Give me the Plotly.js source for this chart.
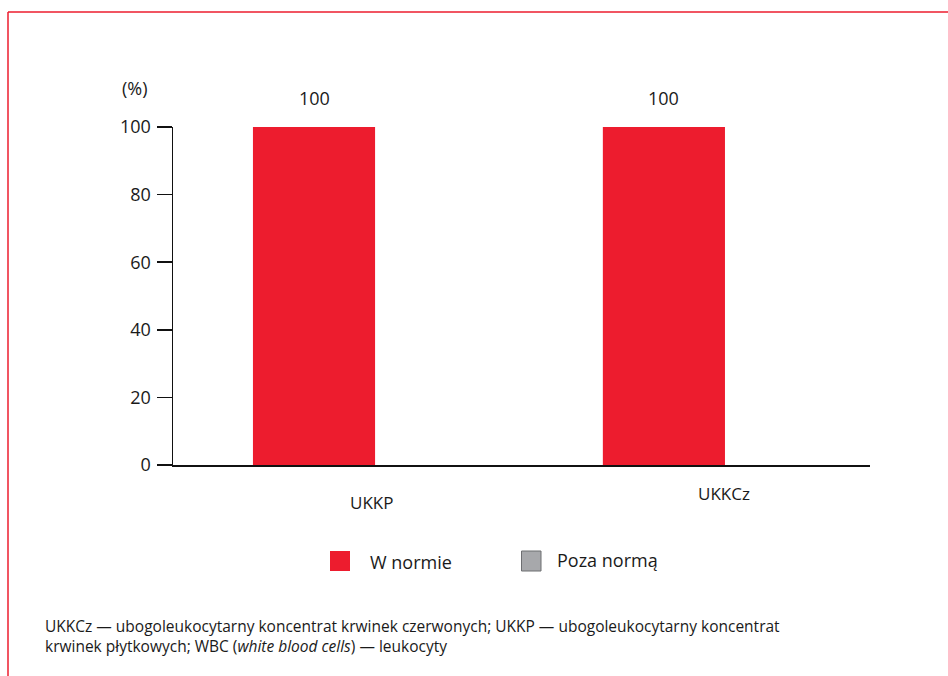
<!DOCTYPE html>
<html><head><meta charset="utf-8">
<script src="https://cdn.plot.ly/plotly-3.0.1.min.js"></script>
<style>html,body{margin:0;padding:0;background:#fff}#chart{width:948px;height:676px}</style>
</head><body><div id="chart"></div>
<script>
const categories = ['UKKP', 'UKKCz'];
const wNormie = [100, 100];
const pozaNorma = [0, 0];
const seriesNames = ['W normie', 'Poza normą'];
const yTicks = [0, 20, 40, 60, 80, 100];
const footnote = 'UKKCz — ubogoleukocytarny koncentrat krwinek czerwonych; UKKP — ubogoleukocytarny koncentrat<br>krwinek płytkowych; WBC (<i>white blood cells</i>) — leukocyty';

const W = 948, H = 676;
const M = {l: 173, r: 78, t: 127, b: 211};
const pw = W - M.l - M.r, ph = H - M.t - M.b;
const px = x => (x - M.l) / pw;
const py = y => (H - M.b - y) / ph;

const RED = '#ed1c2e', GRAY = '#a7a8ab', TXT = '#1a1a1a';
const FONT = 'Open Sans, Noto Sans, sans-serif';

const traces = [
  {type: 'bar', x: [0, 1], y: wNormie, name: seriesNames[0], width: 0.349,
   marker: {color: RED}, showlegend: false, hoverinfo: 'skip'},
  {type: 'bar', x: [0, 1], y: pozaNorma, name: seriesNames[1], width: 0.349,
   marker: {color: GRAY}, showlegend: false, hoverinfo: 'skip'}
];

const annotations = [];
wNormie.forEach((v, i) => annotations.push({x: i, y: v, xref: 'x', yref: 'y', text: String(v),
  showarrow: false, yshift: 29, xanchor: 'center', yanchor: 'middle', font: {size: 18, color: TXT, family: FONT}}));
const catOffsets = [{dx: 0.163, y: 503}, {dx: 1.171 - 1, y: 493}];
categories.forEach((c, i) => annotations.push({x: i + catOffsets[i].dx, y: py(catOffsets[i].y), xref: 'x', yref: 'paper',
  text: c, showarrow: false, xanchor: 'center', yanchor: 'middle', font: {size: 17, color: TXT, family: FONT}}));
annotations.push({x: px(135), y: py(88), xref: 'paper', yref: 'paper', text: '(%)', showarrow: false,
  xanchor: 'center', yanchor: 'middle', font: {size: 18, color: TXT, family: FONT}});
// legend
annotations.push({x: px(368), y: py(562), xref: 'paper', yref: 'paper', text: seriesNames[0], showarrow: false,
  xanchor: 'left', yanchor: 'middle', font: {size: 18, color: TXT, family: FONT}});
annotations.push({x: px(555), y: py(560), xref: 'paper', yref: 'paper', text: seriesNames[1], showarrow: false,
  xanchor: 'left', yanchor: 'middle', font: {size: 18, color: TXT, family: FONT}});
annotations.push({x: px(43), y: py(636), xref: 'paper', yref: 'paper', text: footnote, showarrow: false,
  xanchor: 'left', yanchor: 'middle', align: 'left', font: {size: 15.5, color: TXT, family: FONT}});

const shapes = [
  {type: 'line', xref: 'paper', yref: 'paper', x0: px(8), x1: px(948), y0: py(12), y1: py(12), line: {color: RED, width: 1.5}},
  {type: 'line', xref: 'paper', yref: 'paper', x0: px(8), x1: px(8), y0: py(12), y1: py(676), line: {color: RED, width: 1.5}},
  {type: 'rect', xref: 'paper', yref: 'paper', x0: px(330), x1: px(350), y0: py(551), y1: py(571), fillcolor: RED, line: {width: 0}},
  {type: 'rect', xref: 'paper', yref: 'paper', x0: px(521.5), x1: px(541), y0: py(551), y1: py(571), fillcolor: GRAY, line: {color: '#6d6e71', width: 1}}
];

const layout = {
  width: W, height: H, margin: M, paper_bgcolor: '#fff', plot_bgcolor: '#fff',
  font: {family: FONT, color: TXT}, showlegend: false, barmode: 'overlay',
  xaxis: {range: [-0.403, 1.589], showticklabels: false, ticks: '', showgrid: false, zeroline: false,
    showline: true, linecolor: '#111', linewidth: 1.5, fixedrange: true},
  yaxis: {range: [0, 100], tickvals: yTicks, ticktext: yTicks.map(String), ticks: 'outside', ticklen: 15,
    tickwidth: 1.5, tickcolor: '#111', showgrid: false, zeroline: false, showline: true, linecolor: '#111',
    linewidth: 1.5, ticklabelstandoff: 2, tickfont: {size: 18, color: TXT, family: FONT}, fixedrange: true},
  annotations: annotations, shapes: shapes
};
Plotly.newPlot('chart', traces, layout, {displayModeBar: false, staticPlot: true});
</script></body></html>
